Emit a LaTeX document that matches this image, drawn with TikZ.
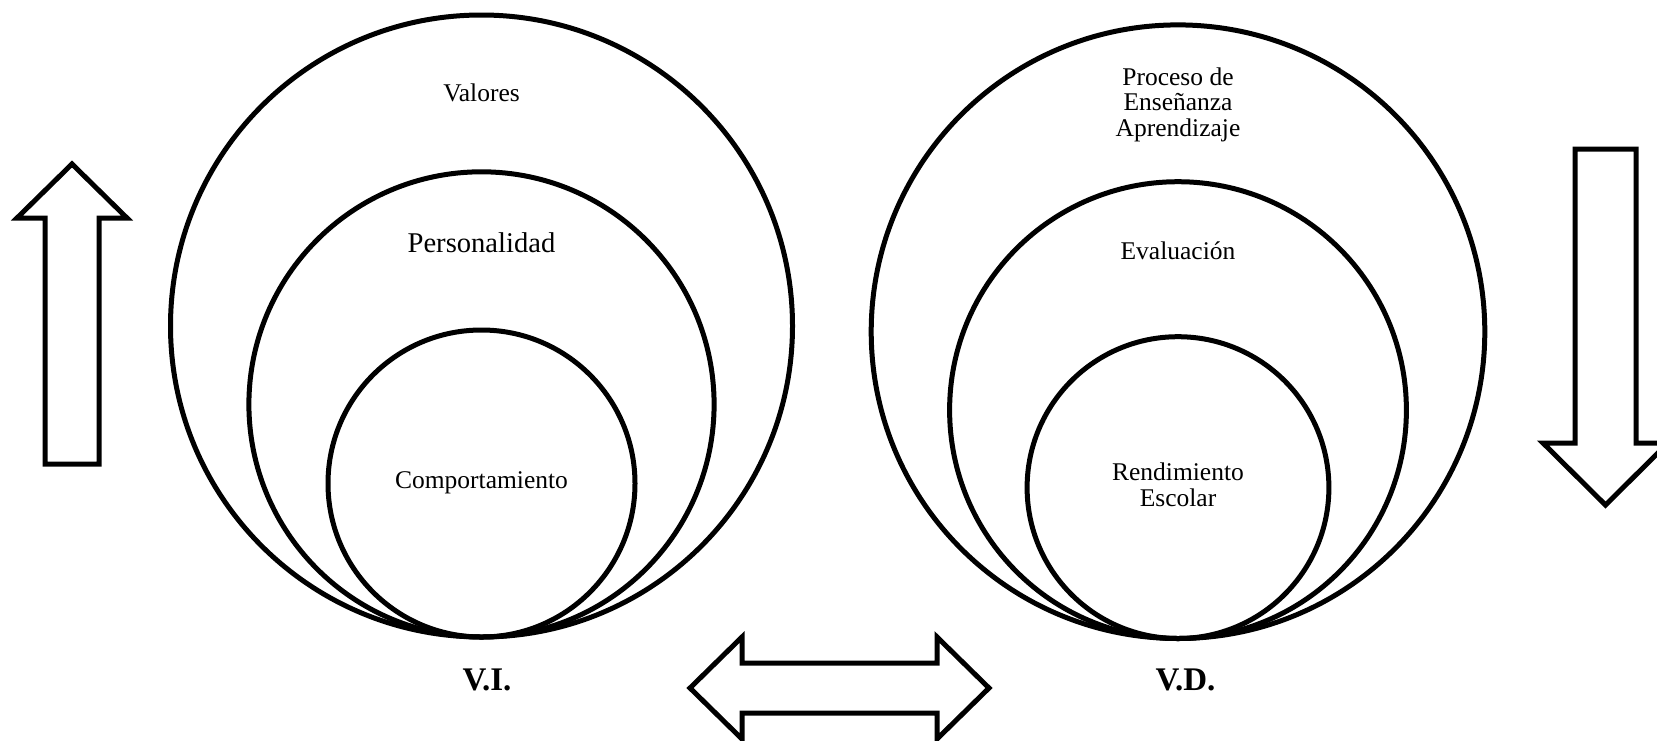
\documentclass[tikz,border=0pt]{standalone}
\usepackage{fontspec}
\setmainfont{Liberation Serif}
\begin{document}
\begin{tikzpicture}[x=1pt,y=-1pt,
  ring/.style={line width=5pt},
  bigarrow/.style={line width=5pt, line join=miter, fill=white},
  lbl/.style={inner sep=0pt, align=center, font=\fontsize{25.5}{25.4}\selectfont},
  lblbig/.style={inner sep=0pt, align=center, font=\fontsize{28.6}{30}\selectfont},
  vlabel/.style={inner sep=0pt, font=\fontsize{33}{36}\selectfont\bfseries}]
\useasboundingbox (0,0) rectangle (1657,740);
\clip (0,0) rectangle (1657,740);
% left circles (V.I.)
\draw[ring] (481.5,326) circle (311);
\draw[ring] (481.5,404.4) circle (232.6);
\draw[ring] (481.5,483.5) circle (153.5);
% right circles (V.D.)
\draw[ring] (1178,331.7) circle (306.8);
\draw[ring] (1178,410.1) circle (228.4);
\draw[ring] (1178,487.6) circle (150.9);
% labels
\node[lbl, anchor=base] (valores) at (481.5,101) {Valores};
\node[lblbig, anchor=base] (personalidad) at (481.5,252) {Personalidad};
\node[lbl, anchor=base] (comport) at (481.5,488.5) {Comportamiento};
\node[lbl, anchor=north] (proceso) at (1178,67.5) {Proceso de\\Enseñanza\\Aprendizaje};
\node[lbl, anchor=base] (evaluacion) at (1178,259) {Evaluación};
\node[lbl, anchor=north] (rend) at (1178,463) {Rendimiento\\Escolar};
\node[vlabel, anchor=base] (vi) at (487,690) {V.I.};
\node[vlabel, anchor=base] (vd) at (1185.5,690) {V.D.};
% up arrow
\draw[bigarrow] (45,464) -- (45,218) -- (17,218) -- (72,164) -- (127,218) -- (99,218) -- (99,464) -- cycle;
% down arrow
\draw[bigarrow] (1575,149) -- (1636,149) -- (1636,443) -- (1668,443) -- (1605.5,505) -- (1543,443) -- (1575,443) -- cycle;
% double arrow
\draw[bigarrow] (690,688) -- (742,637) -- (742,663) -- (937,663) -- (937,637) -- (989,688) -- (937,739) -- (937,713) -- (742,713) -- (742,739) -- cycle;
\end{tikzpicture}
\end{document}
